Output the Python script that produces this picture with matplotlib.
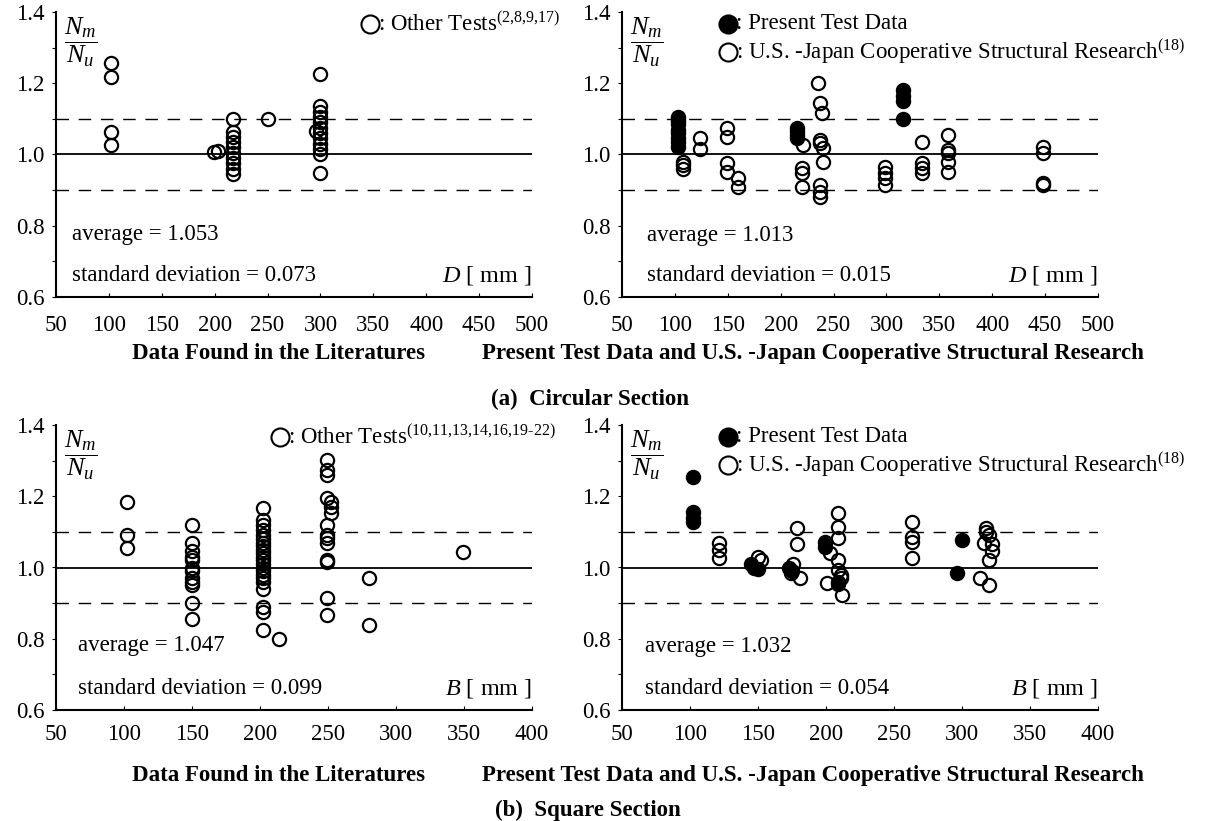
import numpy as np
import matplotlib
matplotlib.use("Agg")
import matplotlib.pyplot as plt
from matplotlib.ticker import MultipleLocator, FormatStrFormatter

plt.rcParams["font.family"] = ["Liberation Serif", "DejaVu Serif"]
plt.rcParams["mathtext.fontset"] = "custom"
plt.rcParams["mathtext.rm"] = "Liberation Serif"
plt.rcParams["mathtext.it"] = "Liberation Serif:italic"
plt.rcParams["mathtext.bf"] = "Liberation Serif:bold"

# (a) circular section, data from the literature
circ_lit_x = [102, 102, 102, 102, 199, 203,
              217, 217, 217, 217, 217, 217, 217, 217, 217, 217,
              250,
              300, 300, 300, 300, 300, 300, 300, 300, 300, 300, 300, 300, 296]
circ_lit_y = [1.257, 1.218, 1.063, 1.027, 1.007, 1.010,
              1.100, 1.063, 1.050, 1.035, 1.020, 1.005, 0.990, 0.975, 0.960, 0.945,
              1.100,
              1.226, 1.135, 1.120, 1.105, 1.090, 1.075, 1.060, 1.045, 1.030, 1.015, 1.000, 0.948, 1.065]

# (a) circular section, present tests (filled) and US-Japan research (open)
circ_test_x = [103, 103, 103, 103, 103, 103, 103, 103, 215, 215, 215, 215, 316, 316, 316, 316]
circ_test_y = [1.105, 1.095, 1.085, 1.070, 1.060, 1.045, 1.035, 1.020,
               1.075, 1.065, 1.055, 1.045, 1.180, 1.165, 1.150, 1.100]
circ_usj_x = [108, 108, 108, 124, 124, 149, 149, 149, 149, 160, 160,
              221, 220, 220, 220, 235, 237, 239, 237, 237, 240, 240, 237, 237, 237,
              299, 299, 299, 299, 334, 334, 334, 334, 358, 358, 358, 358, 358,
              448, 448, 448, 448]
circ_usj_y = [0.980, 0.970, 0.960, 1.045, 1.015, 1.074, 1.050, 0.976, 0.951, 0.934, 0.909,
              1.027, 0.962, 0.948, 0.909, 1.200, 1.145, 1.116, 1.040, 1.032, 1.018, 0.980, 0.914, 0.895, 0.881,
              0.965, 0.948, 0.934, 0.914, 1.035, 0.976, 0.962, 0.948, 1.055, 1.013, 1.004, 0.980, 0.951,
              1.021, 1.004, 0.920, 0.915]

# (b) square section, data from the literature
sq_lit_x = [102, 102, 102,
            150, 150, 150, 150, 150, 150, 150, 150, 150, 150, 150, 150,
            202, 202, 202, 202, 202, 202, 202, 202, 202, 202, 202,
            202, 202, 202, 202, 202, 202, 202, 202, 202, 202, 202,
            214,
            249, 249, 249, 249, 252, 252, 252, 249, 249, 249, 249, 249, 249, 249, 249,
            280, 280, 349]
sq_lit_y = [1.184, 1.092, 1.055,
            1.120, 1.070, 1.045, 1.030, 1.020, 1.000, 0.990, 0.970, 0.960, 0.950, 0.900, 0.855,
            1.167, 1.134, 1.120, 1.105, 1.090, 1.080, 1.070, 1.060, 1.050, 1.040, 1.030,
            1.020, 1.010, 1.000, 0.990, 0.980, 0.970, 0.960, 0.940, 0.890, 0.875, 0.825,
            0.800,
            1.302, 1.274, 1.260, 1.195, 1.184, 1.170, 1.153, 1.120, 1.092, 1.083, 1.069, 1.021, 1.016, 0.915, 0.867,
            0.970, 0.840, 1.044]

# (b) square section, present tests (filled) and US-Japan research (open)
sq_test_x = [102, 102, 102, 102, 145, 147, 150, 173, 175, 199, 199, 209, 300, 296]
sq_test_y = [1.254, 1.156, 1.139, 1.128, 1.010, 1.000, 0.995, 1.000, 0.990, 1.072, 1.058, 0.960, 1.077, 0.985]
sq_usj_x = [121, 121, 121, 150, 152, 179, 179, 176, 174, 181, 203,
            209, 209, 209, 209, 209, 211, 211, 209, 201, 212,
            263, 263, 263, 263, 318, 318, 320, 316, 322, 322, 320, 313, 320]
sq_usj_y = [1.069, 1.049, 1.027, 1.030, 1.020, 1.110, 1.065, 1.010, 0.985, 0.970, 1.041,
            1.153, 1.114, 1.083, 1.021, 0.993, 0.980, 0.970, 0.955, 0.957, 0.923,
            1.128, 1.086, 1.072, 1.027, 1.110, 1.100, 1.090, 1.070, 1.065, 1.045, 1.020, 0.970, 0.950]

averages = ["1.053", "1.013", "1.047", "1.032"]
std_devs = ["0.073", "0.015", "0.099", "0.054"]

W, H = 1221, 821
FS = 16.5

fig = plt.figure(figsize=(W / 100, H / 100), dpi=100)


def make_axes(left, bottom, xmax, pad):
    ax = fig.add_axes([left / W, (H - bottom) / H, 476 / W, 285 / H])
    ax.set_xlim(50, xmax)
    ax.set_ylim(0.6, 1.4)
    for s in ["top", "right"]:
        ax.spines[s].set_visible(False)
    for s in ["left", "bottom"]:
        ax.spines[s].set_linewidth(1.5)
    ax.xaxis.set_major_locator(MultipleLocator(50))
    ax.yaxis.set_major_locator(MultipleLocator(0.2))
    ax.yaxis.set_minor_locator(MultipleLocator(0.1))
    ax.yaxis.set_major_formatter(FormatStrFormatter("%.1f"))
    ax.tick_params(axis="x", direction="in", length=3, width=0.8, pad=pad, labelsize=FS)
    ax.tick_params(axis="y", which="both", direction="out", length=3, width=0.8, pad=5, labelsize=FS)
    ax.axhline(1.0, color="k", lw=1.3)
    ax.axhline(1.1, color="k", lw=1.0, dashes=(9, 7))
    ax.axhline(0.9, color="k", lw=1.0, dashes=(9, 7))
    ax.text(0.052, 0.895, r"$\dfrac{N_m}{N_u}$", transform=ax.transAxes,
            fontsize=19, ha="center", va="center")
    return ax


def open_pts(ax, x, y):
    ax.plot(x, y, "o", ms=9.5, mfc="none", mec="k", mew=1.6, ls="none")


def filled_pts(ax, x, y):
    ax.plot(x, y, "o", ms=9.5, mfc="k", mec="k", mew=1.6, ls="none")


def stats(ax, i, dim, x0, y0):
    ax.text(x0, y0, "average = " + averages[i], transform=ax.transAxes, fontsize=FS, va="center")
    ax.text(x0, 0.077, "standard deviation = " + std_devs[i], transform=ax.transAxes,
            fontsize=FS, va="center")
    ax.text(1.0, 0.077, "$" + dim + r"$ [ mm ]", transform=ax.transAxes, fontsize=FS + 1,
            va="center", ha="right")


def key(ax, x, y, filled, label):
    ax.plot([x], [y], "o", ms=13, mfc="k" if filled else "none", mec="k", mew=1.5,
            transform=ax.transAxes, clip_on=False)
    ax.text(x + 0.017, y, label, transform=ax.transAxes, fontsize=FS, va="center")


# top row: circular section
ax1 = make_axes(56, 297, 500, 13)
open_pts(ax1, circ_lit_x, circ_lit_y)
key(ax1, 0.66, 0.958, False, r": Other Tests$^{\mathrm{(2{,}8{,}9{,}17)}}$")
stats(ax1, 0, "D", 0.034, 0.218)

ax2 = make_axes(622, 297, 500, 13)
open_pts(ax2, circ_usj_x, circ_usj_y)
filled_pts(ax2, circ_test_x, circ_test_y)
key(ax2, 0.223, 0.958, True, ": Present Test Data")
key(ax2, 0.223, 0.86, False, r": U.S. -Japan Cooperative Structural Research$^{\mathrm{(18)}}$")
stats(ax2, 1, "D", 0.053, 0.216)

# bottom row: square section
ax3 = make_axes(56, 710, 400, 10)
open_pts(ax3, sq_lit_x, sq_lit_y)
key(ax3, 0.47, 0.958, False,
    r": Other Tests$^{\mathrm{(10{,}11{,}13{,}14{,}16{,}19\text{-}22)}}$")
stats(ax3, 2, "B", 0.046, 0.226)

ax4 = make_axes(622, 710, 400, 10)
open_pts(ax4, sq_usj_x, sq_usj_y)
filled_pts(ax4, sq_test_x, sq_test_y)
key(ax4, 0.223, 0.958, True, ": Present Test Data")
key(ax4, 0.223, 0.86, False, r": U.S. -Japan Cooperative Structural Research$^{\mathrm{(18)}}$")
stats(ax4, 3, "B", 0.048, 0.222)

# captions
for yc in [353, 775]:
    fig.text(278 / W, 1 - yc / H, "Data Found in the Literatures", fontsize=FS,
             fontweight="bold", ha="center", va="center")
    fig.text(813 / W, 1 - yc / H, "Present Test Data and U.S. -Japan Cooperative Structural Research",
             fontsize=FS, fontweight="bold", ha="center", va="center")
fig.text(590 / W, 1 - 399 / H, "(a)  Circular Section", fontsize=FS, fontweight="bold",
         ha="center", va="center")
fig.text(588 / W, 1 - 810 / H, "(b)  Square Section", fontsize=FS, fontweight="bold",
         ha="center", va="center")

fig.savefig("out.png", dpi=100)
